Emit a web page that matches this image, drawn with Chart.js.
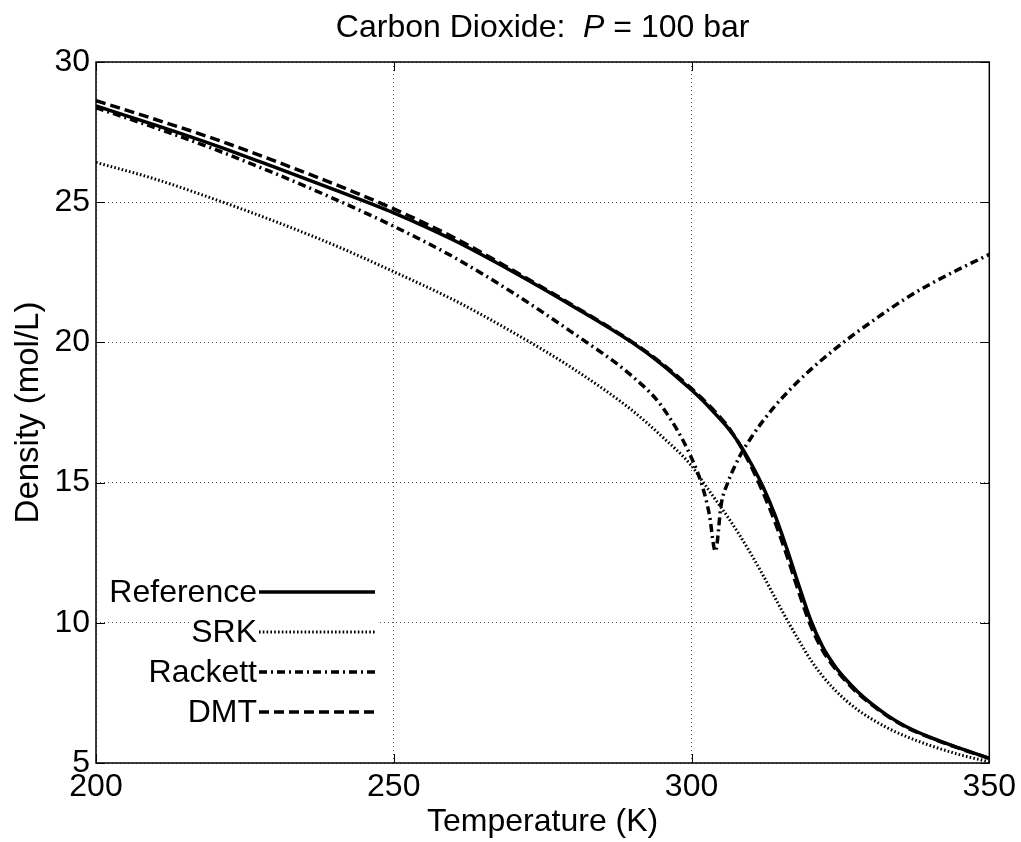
<!DOCTYPE html>
<html><head><meta charset="utf-8">
<script src="https://cdn.jsdelivr.net/npm/chart.js@4.4.0/dist/chart.umd.min.js"></script>
<style>html,body{margin:0;padding:0;background:#fff;}canvas{display:block;}</style>
</head><body>
<canvas id="c" width="1021" height="842"></canvas>
<script>
// ---- data ----
const temperatures = [200,210,220,230,240,250,260,270,280,290,295,300,302,303,304,305,306,308,310,312,314,316,318,320,322,324,326,328,330,333,336,340,345,350];
const referenceDensity = [28.43,27.75,27.03,26.25,25.45,24.62,23.65,22.52,21.30,20.00,19.22,18.30,17.90,17.68,17.45,17.22,16.98,16.40,15.68,14.85,13.85,12.65,11.35,10.10,9.15,8.48,7.96,7.52,7.15,6.68,6.30,5.92,5.53,5.17];
const srkDensity = [26.42,25.82,25.10,24.32,23.47,22.52,21.52,20.36,19.08,17.58,16.65,15.60,15.00,14.70,14.40,14.10,13.80,13.15,12.45,11.70,10.90,10.12,9.38,8.68,8.10,7.62,7.22,6.88,6.60,6.24,5.95,5.63,5.30,5.04];
const rackettDensity = [28.37,27.65,26.88,26.03,25.12,24.14,23.05,21.77,20.35,18.80,17.72,15.88,14.74,13.85,12.55,14.25,14.95,15.90,16.60,17.20,17.73,18.20,18.63,19.03,19.40,19.75,20.08,20.40,20.70,21.15,21.57,22.07,22.62,23.14];
const dmtDensity = [28.62,27.95,27.25,26.47,25.65,24.76,23.75,22.57,21.33,20.02,19.25,18.35,17.95,17.74,17.52,17.28,17.03,16.38,15.58,14.65,13.60,12.40,11.10,9.90,9.02,8.40,7.90,7.47,7.12,6.66,6.28,5.91,5.52,5.16];
const seriesNames = ['Reference','SRK','Rackett','DMT'];
const xTicks = [200,250,300,350];
const yTicks = [5,10,15,20,25,30];
const titleParts = ['Carbon Dioxide:  ','P',' = 100 bar'];
const xTitle = 'Temperature (K)';
const yTitle = 'Density (mol/L)';

const FONT = '"Liberation Sans", Arial, Helvetica, sans-serif';
const FS = 32;
Chart.defaults.font.family = FONT;
Chart.defaults.color = '#000';

const toPts = vals => temperatures.map((t,i)=>({x:t,y:vals[i]}));

const styles = [
  {borderWidth:3.5, borderDash:[]},
  {borderWidth:3, borderDash:[1.6,2.2]},
  {borderWidth:3.5, borderDash:[8,4,2,4]},
  {borderWidth:3.5, borderDash:[10,5]}
];
const seriesValues = [referenceDensity, srkDensity, rackettDensity, dmtDensity];

const datasets = seriesNames.map((n,i)=>({
  label:n, data:toPts(seriesValues[i]), borderColor:'#000', backgroundColor:'#000',
  borderWidth:styles[i].borderWidth, borderDash:styles[i].borderDash,
  pointRadius:0, fill:false, cubicInterpolationMode:'monotone', order: i===0?0:1
}));

const bgPlugin = {id:'bg', beforeDraw(c){const x=c.ctx;x.save();x.fillStyle='#fff';x.fillRect(0,0,c.width,c.height);x.restore();}};

const framePlugin = {id:'frame', afterDatasetsDraw(c){
  const {ctx, chartArea:a, scales} = c;
  ctx.save();
  ctx.strokeStyle='#000'; ctx.lineWidth=1.5; ctx.setLineDash([]);
  ctx.strokeRect(a.left, a.top, a.right-a.left, a.bottom-a.top);
  ctx.lineWidth=1;
  const L=9;
  xTicks.forEach(v=>{const px=Math.round(scales.x.getPixelForValue(v))+0.5;
    ctx.beginPath();ctx.moveTo(px,a.bottom);ctx.lineTo(px,a.bottom-L);ctx.moveTo(px,a.top);ctx.lineTo(px,a.top+L);ctx.stroke();});
  yTicks.forEach(v=>{const py=Math.round(scales.y.getPixelForValue(v))+0.5;
    ctx.beginPath();ctx.moveTo(a.left,py);ctx.lineTo(a.left+L,py);ctx.moveTo(a.right,py);ctx.lineTo(a.right-L,py);ctx.stroke();});
  ctx.restore();
}, afterDraw(c){
  const ctx=c.ctx;
  // title with italic P
  ctx.save();
  ctx.fillStyle='#000'; ctx.textBaseline='alphabetic';
  const fonts=[`${FS}px ${FONT}`,`italic ${FS}px ${FONT}`,`${FS}px ${FONT}`];
  let w=0; titleParts.forEach((t,i)=>{ctx.font=fonts[i]; w+=ctx.measureText(t).width;});
  const a=c.chartArea; let x=(a.left+a.right)/2 - w/2; const y=37;
  ctx.textAlign='left';
  titleParts.forEach((t,i)=>{ctx.font=fonts[i]; ctx.fillText(t,x,y); x+=ctx.measureText(t).width;});
  // legend
  ctx.font=`${FS}px ${FONT}`; ctx.textBaseline='middle';
  const textRight=257, lineStart=259, lineEnd=375;
  c.data.datasets.forEach((ds,i)=>{
    const ry = 592 + i*40;
    const tw = ctx.measureText(ds.label).width;
    ctx.fillStyle='#fff';
    ctx.fillRect(textRight-tw-2, ry-17, lineEnd-(textRight-tw-2)+2, 34);
    ctx.fillStyle='#000'; ctx.textAlign='right';
    ctx.fillText(ds.label, textRight, ry+1);
    ctx.strokeStyle='#000'; ctx.lineWidth=ds.borderWidth; ctx.setLineDash(ds.borderDash||[]);
    ctx.beginPath(); ctx.moveTo(lineStart, ry); ctx.lineTo(lineEnd, ry); ctx.stroke();
  });
  ctx.restore();
}};

new Chart(document.getElementById('c'), {
  type:'line',
  data:{datasets},
  options:{
    responsive:false, animation:false, devicePixelRatio:1,
    layout:{padding:{left:0,right:31,top:62,bottom:0}},
    plugins:{legend:{display:false}, title:{display:false}, tooltip:{enabled:false}},
    scales:{
      x:{type:'linear', min:200, max:350,
        afterFit(s){s.height=79;},
        afterBuildTicks(s){s.ticks=xTicks.map(v=>({value:v}));},
        ticks:{font:{size:FS}, color:'#000', padding:5, maxRotation:0, autoSkip:false},
        grid:{color:'#555', lineWidth:1, drawTicks:false},
        border:{display:false, dash:[1,3]},
        title:{display:true, text:xTitle, font:{size:FS}, color:'#000', padding:{top:0,bottom:1}}
      },
      y:{type:'linear', min:5, max:30,
        afterFit(s){s.width=96;},
        afterBuildTicks(s){s.ticks=yTicks.map(v=>({value:v}));},
        ticks:{font:{size:FS}, color:'#000', padding:6, autoSkip:false},
        grid:{color:'#555', lineWidth:1, drawTicks:false},
        border:{display:false, dash:[1,3]},
        title:{display:true, text:yTitle, font:{size:33}, color:'#000', padding:{top:9,bottom:0}}
      }
    }
  },
  plugins:[bgPlugin, framePlugin]
});
</script>
</body></html>
